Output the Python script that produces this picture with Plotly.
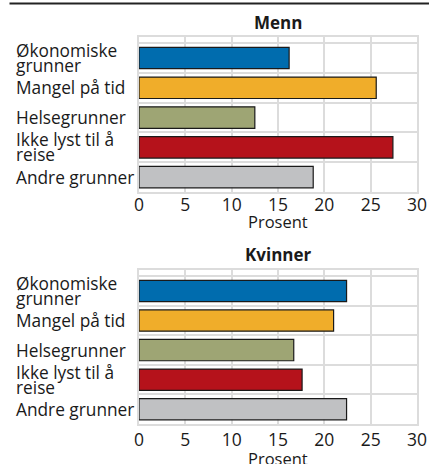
import plotly.graph_objects as go
from plotly.subplots import make_subplots

categories = ["Økonomiske grunner", "Mangel på tid", "Helsegrunner", "Ikke lyst til å reise", "Andre grunner"]
category_labels = ["Økonomiske<br>grunner", "Mangel på tid", "Helsegrunner", "Ikke lyst til å<br>reise", "Andre grunner"]
menn = [16.2, 25.6, 12.5, 27.4, 18.8]
kvinner = [22.4, 21.0, 16.7, 17.6, 22.4]
panel_titles = ["Menn", "Kvinner"]
x_ticks = [0, 5, 10, 15, 20, 25, 30]
x_title = "Prosent"
bar_colors = ["#006cae", "#f0ad2a", "#9ea574", "#b5121b", "#c0c1c3"]

W, H = 429, 464
ml, mr, mt, mb = 139, 12, 37, 40
pw = W - ml - mr
ph = H - mt - mb
top_h, bot_h = 155, 154

fig = make_subplots(rows=2, cols=1)
for r, vals in enumerate([menn, kvinner], start=1):
    fig.add_trace(go.Bar(
        x=vals, y=categories, orientation="h",
        marker=dict(color=bar_colors, line=dict(color="#1a1a1a", width=1.2)),
        width=0.72, showlegend=False, hoverinfo="x+y",
    ), row=r, col=1)

font_family = "Open Sans, Noto Sans, sans-serif"
txt = "#1a1a1a"
axis_common_x = dict(
    range=[0, 30], tickvals=x_ticks, showgrid=True, gridcolor="#dcdcdc", gridwidth=2,
    showline=True, linecolor="#dcdcdc", linewidth=2, mirror=True, zeroline=False,
    ticks="", ticklen=0, automargin=False,
    tickfont=dict(size=17.5, color=txt, family=font_family),
)
axis_common_y = dict(
    categoryorder="array", categoryarray=categories, autorange="reversed",
    tickson="boundaries", showgrid=True, gridcolor="#dcdcdc", gridwidth=2,
    showline=True, linecolor="#dcdcdc", linewidth=2, mirror=True,
    showticklabels=False, ticks="", automargin=False,
)

top_dom = [(ph - top_h) / ph, 1]
bot_dom = [0, bot_h / ph]
fig.update_layout(
    width=W, height=H,
    margin=dict(l=ml, r=mr, t=mt, b=mb, autoexpand=False),
    plot_bgcolor="white", paper_bgcolor="white",
    font=dict(family=font_family, color=txt),
    xaxis=dict(axis_common_x, domain=[0, 1], ticklabelstandoff=-4),
    xaxis2=dict(axis_common_x, domain=[0, 1], ticklabelstandoff=-1),
    yaxis=dict(axis_common_y, domain=top_dom),
    yaxis2=dict(axis_common_y, domain=bot_dom),
)

label_font = dict(size=17.3, color=txt, family=font_family)
line_gap = 15
annotations = []
for yref in ["y", "y2"]:
    for cat, lab in zip(categories, category_labels):
        lines = lab.split("<br>")
        n = len(lines)
        for i, ln in enumerate(lines):
            shift = ((n - 1) / 2 - i) * line_gap
            annotations.append(dict(
                x=-125 / pw, xref="paper", y=cat, yref=yref, yshift=shift,
                text=ln, showarrow=False, xanchor="left", yanchor="middle", align="left",
                font=label_font,
            ))
title_font = dict(size=17, color=txt, family=font_family)
xt_font = dict(size=16.5, color=txt, family=font_family)
for title, dom, tshift, xshift in [(panel_titles[0], top_dom, 15, -29), (panel_titles[1], bot_dom, 16, -34)]:
    annotations.append(dict(x=0.5, xref="paper", y=dom[1], yref="paper", yshift=tshift,
                            text="<b>" + title + "</b>",
                            showarrow=False, yanchor="middle", font=title_font))
    annotations.append(dict(x=0.5, xref="paper", y=dom[0], yref="paper", yshift=xshift,
                            text=x_title, showarrow=False, yanchor="middle", font=xt_font))
fig.update_layout(annotations=annotations)

# top rule
fig.add_shape(type="line", xref="paper", yref="paper",
              x0=-129.5 / pw, x1=(W - ml) / pw,
              y0=1 + 33.5 / ph, y1=1 + 33.5 / ph, line=dict(color="#222222", width=2))

fig.write_html("out.html", config={"displayModeBar": False},
               post_script="document.body.style.margin='0';document.body.style.overflow='hidden';")
